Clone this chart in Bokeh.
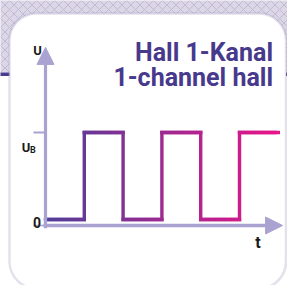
import numpy as np
from bokeh.plotting import figure
from bokeh.models import BoxAnnotation, Arrow, NormalHead, Range1d
from bokeh.core.properties import value
from bokeh.embed import file_html
from bokeh.resources import INLINE

# ---------------- data ----------------
edge_times = [0, 1, 2, 3, 4, 5, 6]      # half-period boundaries (time units)
levels = [0, 1, 0, 1, 0, 1]             # signal level per half period (0 = low, 1 = U_B)
y_tick_values = [0, 1]
y_tick_main = ["0", "U"]
y_tick_sub = ["", "B"]
axis_names = ["U", "t"]
title_lines = ["Hall 1-Kanal", "1-channel hall"]

# ---------------- layout / style ----------------
PAGE_OFF = 0
W, H = 287, 285
X0_PX, PX_PER_T = 45.0, 38.8     # window pixel of t = 0
Y0_PX, PX_PER_U = 225.0, 93.0    # window pixel of U = 0
LOW_LIFT = 0.065           # low level drawn just above the time axis
T_AXIS_END = edge_times[-1] + 0.11
U_AXIS_END = 1.915
TICK_LEN = 0.31

FONT = value("Roboto")
AXIS_COL = "#aaa3d1"
FRAME_COL = "#a19cbf"
TITLE_COL = "#47398c"
C_LEFT = np.array([0x4f, 0x3f, 0x99])
C_RIGHT = np.array([0xe8, 0x15, 0x8a])

def px2x(px):
    return (px - X0_PX) / PX_PER_T

def py2y(py):
    return (Y0_PX - py) / PX_PER_U

p = figure(width=W, height=H, output_backend="svg", toolbar_location=None,
           x_range=Range1d(px2x(PAGE_OFF), px2x(PAGE_OFF + W)),
           y_range=Range1d(py2y(PAGE_OFF + H), py2y(PAGE_OFF)),
           min_border=0, outline_line_color=None,
           background_fill_color="white", border_fill_color="white")
p.axis.visible = False
p.grid.visible = False

# decorative background: textured band at top, dark stripe, then white panel
p.add_layout(BoxAnnotation(left=px2x(-5), right=px2x(300), top=py2y(-5), bottom=py2y(72),
                           fill_color="#dcd7e6", fill_alpha=1, line_color=None,
                           hatch_pattern="diagonal_cross", hatch_color="#9486b5",
                           hatch_alpha=0.45, hatch_scale=9, hatch_weight=0.8,
                           level="underlay"))
p.add_layout(BoxAnnotation(left=px2x(-5), right=px2x(300), top=py2y(72), bottom=py2y(75.5),
                           fill_color="#4a3b8f", fill_alpha=1, line_color=None,
                           level="underlay"))
p.add_layout(BoxAnnotation(left=px2x(9), right=px2x(285.5), top=py2y(13), bottom=py2y(288),
                           fill_color="white", fill_alpha=1, line_color=FRAME_COL,
                           line_width=2.5, border_radius=27, level="underlay"))

# ---------------- signal with colour gradient ----------------
x0s, y0s, x1s, y1s, cols = [], [], [], [], []
t_max = edge_times[-1]

def col_at(t):
    f = min(max(t / t_max, 0), 1)
    c = (C_LEFT + (C_RIGHT - C_LEFT) * f).astype(int)
    return "#%02x%02x%02x" % tuple(c)

def lvl(v):
    return v if v > 0 else LOW_LIFT

for i, lv in enumerate(levels):
    a, b = edge_times[i], edge_times[i + 1]
    n = 12
    xs = np.linspace(a, b, n + 1)
    for k in range(n):
        x0s.append(xs[k]); x1s.append(xs[k + 1])
        y0s.append(lvl(lv)); y1s.append(lvl(lv))
        cols.append(col_at((xs[k] + xs[k + 1]) / 2))
    if i + 1 < len(levels):
        x0s.append(b); x1s.append(b)
        y0s.append(lvl(lv)); y1s.append(lvl(levels[i + 1]))
        cols.append(col_at(b))

p.segment(x0=x0s, y0=y0s, x1=x1s, y1=y1s, line_color=cols, line_width=3.4,
          line_cap="square")

# ---------------- axes (arrows) ----------------
p.add_layout(Arrow(x_start=-0.05, y_start=0, x_end=T_AXIS_END, y_end=0,
                   line_color=AXIS_COL, line_width=3.6,
                   end=NormalHead(size=17, fill_color=AXIS_COL, line_color=AXIS_COL, line_width=1)))
p.add_layout(Arrow(x_start=0, y_start=-0.03, x_end=0, y_end=U_AXIS_END,
                   line_color=AXIS_COL, line_width=3.2,
                   end=NormalHead(size=17, fill_color=AXIS_COL, line_color=AXIS_COL, line_width=1)))

# ticks
p.segment(x0=[-TICK_LEN] * len(y_tick_values), y0=y_tick_values,
          x1=[0] * len(y_tick_values), y1=y_tick_values,
          line_color=AXIS_COL, line_width=[1.6, 2.0])

# tick labels
p.text(x=[0], y=[y_tick_values[0]], text=[y_tick_main[0]], x_offset=-8.5, y_offset=-3,
       text_align="center", text_baseline="alphabetic", text_font=FONT,
       text_font_style="bold", text_font_size="14px", text_color="#1a1a1a")
p.text(x=[0], y=[y_tick_values[1]], text=[y_tick_main[1]], x_offset=-15.3, y_offset=15,
       text_align="right", text_baseline="alphabetic", text_font=FONT,
       text_font_style="bold", text_font_size="13px", text_color="#1a1a1a")
p.text(x=[0], y=[y_tick_values[1]], text=[y_tick_sub[1]], x_offset=-15.5, y_offset=17.5,
       text_align="left", text_baseline="alphabetic", text_font=FONT,
       text_font_style="bold", text_font_size="9px", text_color="#1a1a1a")

# axis names
p.text(x=[0], y=[U_AXIS_END], text=[axis_names[0]], x_offset=-8, y_offset=3,
       text_align="center", text_baseline="alphabetic", text_font=FONT,
       text_font_style="bold", text_font_size="13px", text_color="#1a1a1a")
p.text(x=[T_AXIS_END], y=[0], text=[axis_names[1]], x_offset=-24.5, y_offset=17,
       text_align="center", text_baseline="alphabetic", text_font=FONT,
       text_font_style="bold", text_font_size="16px", text_color="#1a1a1a")

# title
for line, py in zip(title_lines, [52, 77]):
    p.text(x=[px2x(272.5)], y=[py2y(py)], text=[line], text_align="right",
           text_baseline="alphabetic", text_font=FONT, text_font_style="bold",
           text_font_size="25px", text_color=TITLE_COL)

open("out.html", "w").write(file_html(p, INLINE))
